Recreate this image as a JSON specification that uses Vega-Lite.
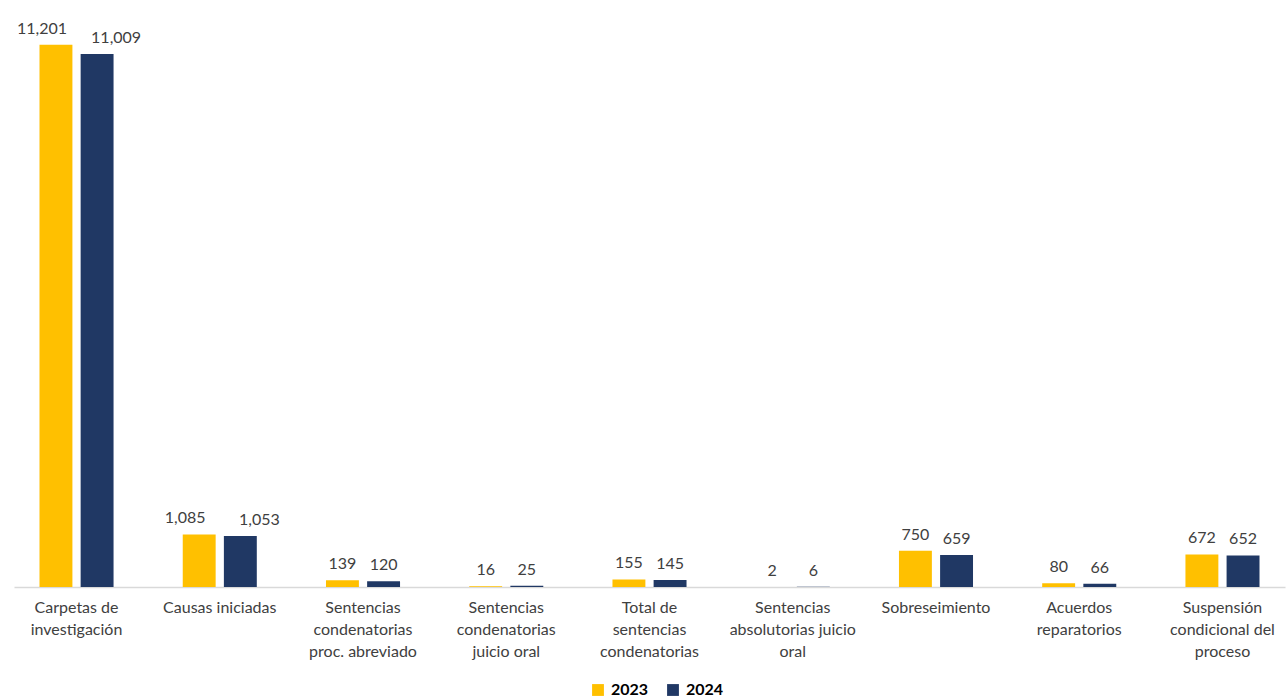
{
  "$schema": "https://vega.github.io/schema/vega-lite/v6.json",
  "autosize": {"type": "none"},
  "padding": {"left": 14, "top": 6, "right": 1, "bottom": 113},
  "width": 1271,
  "height": 581,
  "background": "white",
  "config": {
    "view": {"stroke": null},
    "font": "Lato"
  },
  "data": {
    "values": [
      {"cat": "Carpetas de|investigación", "year": "2023", "value": 11201},
      {"cat": "Carpetas de|investigación", "year": "2024", "value": 11009},
      {"cat": "Causas iniciadas", "year": "2023", "value": 1085},
      {"cat": "Causas iniciadas", "year": "2024", "value": 1053},
      {"cat": "Sentencias|condenatorias|proc. abreviado", "year": "2023", "value": 139},
      {"cat": "Sentencias|condenatorias|proc. abreviado", "year": "2024", "value": 120},
      {"cat": "Sentencias|condenatorias|juicio oral", "year": "2023", "value": 16},
      {"cat": "Sentencias|condenatorias|juicio oral", "year": "2024", "value": 25},
      {"cat": "Total de|sentencias|condenatorias", "year": "2023", "value": 155},
      {"cat": "Total de|sentencias|condenatorias", "year": "2024", "value": 145},
      {"cat": "Sentencias|absolutorias juicio|oral", "year": "2023", "value": 2},
      {"cat": "Sentencias|absolutorias juicio|oral", "year": "2024", "value": 6},
      {"cat": "Sobreseimiento", "year": "2023", "value": 750},
      {"cat": "Sobreseimiento", "year": "2024", "value": 659},
      {"cat": "Acuerdos|reparatorios", "year": "2023", "value": 80},
      {"cat": "Acuerdos|reparatorios", "year": "2024", "value": 66},
      {"cat": "Suspensión|condicional del|proceso", "year": "2023", "value": 672},
      {"cat": "Suspensión|condicional del|proceso", "year": "2024", "value": 652}
    ]
  },
  "encoding": {
    "x": {
      "field": "cat", "type": "nominal", "sort": null, "title": null,
      "scale": {"paddingInner": 0.483, "paddingOuter": 0.178},
      "axis": {
        "labelAngle": 0, "labelExpr": "split(datum.label, '|')",
        "labelFontSize": 16, "labelColor": "#404040", "labelLineHeight": 22,
        "labelPadding": 12, "ticks": false, "domainColor": "#D9D9D9", "domainWidth": 1.5,
        "labelLimit": 200
      }
    },
    "xOffset": {"field": "year", "type": "nominal", "scale": {"paddingInner": 0.2, "paddingOuter": 0}},
    "y": {
      "field": "value", "type": "quantitative",
      "scale": {"domain": [0, 12000], "nice": false},
      "axis": null
    }
  },
  "layer": [
    {
      "mark": {"type": "bar"},
      "encoding": {
        "color": {
          "field": "year", "type": "nominal",
          "scale": {"domain": ["2023", "2024"], "range": ["#FFC000", "#203864"]},
          "legend": {
            "title": null, "orient": "none", "legendX": 576, "legendY": 676, "direction": "horizontal",
            "symbolType": "square", "symbolSize": 140, "symbolStrokeWidth": 0,
            "labelFontSize": 16, "labelFontWeight": "bold", "labelColor": "#000000",
            "columnPadding": 16, "labelOffset": 5
          }
        }
      }
    },
    {
      "transform": [{"filter": "datum.value < 1000"}],
      "mark": {"type": "text", "baseline": "bottom", "dy": -8, "fontSize": 16, "color": "#404040"},
      "encoding": {
        "text": {"field": "value", "type": "quantitative", "format": ","}
      }
    },
    {
      "transform": [{"filter": "datum.value >= 1000 && datum.year == '2023'"}],
      "mark": {"type": "text", "baseline": "bottom", "dy": -8, "dx": -14, "fontSize": 16, "color": "#404040"},
      "encoding": {
        "text": {"field": "value", "type": "quantitative", "format": ","}
      }
    },
    {
      "transform": [{"filter": "datum.value >= 1000 && datum.year == '2024'"}],
      "mark": {"type": "text", "baseline": "bottom", "dy": -8, "dx": 19, "fontSize": 16, "color": "#404040"},
      "encoding": {
        "text": {"field": "value", "type": "quantitative", "format": ","}
      }
    }
  ]
}
